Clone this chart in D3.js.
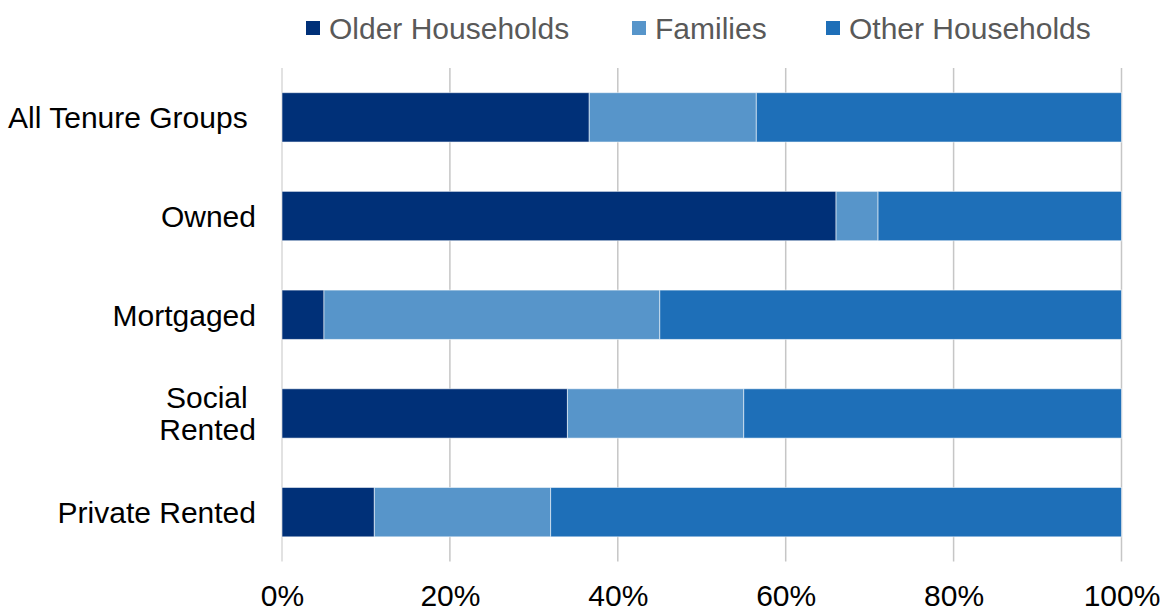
<!DOCTYPE html>
<html>
<head>
<meta charset="utf-8">
<script src="https://cdn.jsdelivr.net/npm/d3@7"></script>
<style>
  html, body { margin: 0; padding: 0; background: #fff; }
  svg { display: block; font-family: Arial, "Liberation Sans", sans-serif; }
</style>
</head>
<body>
<svg id="chart" width="1165" height="610"></svg>
<script>
// Household composition by tenure (share of households, %)
const categories = ["All Tenure Groups ", "Owned", "Mortgaged", "Social \nRented", "Private Rented"];
const seriesNames = ["Older Households", "Families", "Other Households"];
const olderHouseholds = [36.6, 66, 5, 34, 11];
const families = [19.9, 5, 40, 21, 21];
const otherHouseholds = [43.5, 29, 55, 45, 68];
const tickValues = [0, 20, 40, 60, 80, 100];
const colors = ["#003078", "#5795CA", "#1E6FB8"];

const svg = d3.select("#chart");
const W = 1165, H = 610;
const margin = { left: 282, right: W - 1121.5, top: 68, bottom: H - 561.5 };
const fontSize = 30;

const rows = categories.map((c, i) => ({
  category: c,
  "Older Households": olderHouseholds[i],
  "Families": families[i],
  "Other Households": otherHouseholds[i]
}));

const stacked = d3.stack().keys(seriesNames)(rows);

const x = d3.scaleLinear().domain([0, 100]).range([margin.left, W - margin.right]);
const y = d3.scaleBand().domain(categories).range([margin.top, H - margin.bottom])
  .paddingInner(0.5).paddingOuter(0.25);

// vertical gridlines
svg.append("g")
  .selectAll("line")
  .data(tickValues)
  .join("line")
  .attr("x1", d => x(d)).attr("x2", d => x(d))
  .attr("y1", margin.top).attr("y2", H - margin.bottom)
  .attr("stroke", d => d === 0 ? "#d9d9d9" : "#c6c6c6")
  .attr("stroke-width", 1.5);

// stacked bars
svg.append("g")
  .selectAll("g")
  .data(stacked)
  .join("g")
  .attr("fill", (d, i) => colors[i])
  .selectAll("rect")
  .data(d => d.map(v => ({ v, cat: v.data.category })))
  .join("rect")
  .attr("x", d => x(d.v[0]))
  .attr("width", d => x(d.v[1]) - x(d.v[0]))
  .attr("y", d => y(d.cat))
  .attr("height", y.bandwidth())
  .attr("stroke", "#ffffff")
  .attr("stroke-opacity", 0.55)
  .attr("stroke-width", 1);

// x axis tick labels
const xAxis = d3.axisBottom(x).tickValues(tickValues).tickFormat(d => d + "%").tickSize(0);
const gx = svg.append("g")
  .attr("transform", `translate(0, ${H - margin.bottom})`)
  .call(xAxis);
gx.select(".domain").remove();
gx.selectAll("text")
  .attr("y", 44)
  .attr("dy", null)
  .attr("font-size", fontSize)
  .attr("font-family", "Arial, 'Liberation Sans', sans-serif")
  .attr("fill", "#000");

// category labels
const gy = svg.append("g");
categories.forEach(c => {
  const lines = c.split("\n");
  const lh = 32;
  const cy = y(c) + y.bandwidth() / 2;
  const t = gy.append("text")
    .attr("text-anchor", "end")
    .attr("font-size", fontSize)
    .attr("fill", "#000")
    .style("white-space", "pre");
  lines.forEach((ln, j) => {
    t.append("tspan")
      .attr("x", 256)
      .attr("y", cy + (j - (lines.length - 1) / 2) * lh)
      .attr("dy", "0.36em")
      .text(ln);
  });
});

// legend
const legendX = [306, 632, 826];
const lg = svg.append("g");
seriesNames.forEach((name, i) => {
  const g = lg.append("g").attr("transform", `translate(${legendX[i]}, 28)`);
  g.append("rect")
    .attr("x", 0).attr("y", -7)
    .attr("width", 14).attr("height", 14)
    .attr("fill", colors[i]);
  g.append("text")
    .attr("x", 23).attr("y", 0).attr("dy", "0.36em")
    .attr("font-size", fontSize)
    .attr("fill", "#595959")
    .text(name);
});
</script>
</body>
</html>
